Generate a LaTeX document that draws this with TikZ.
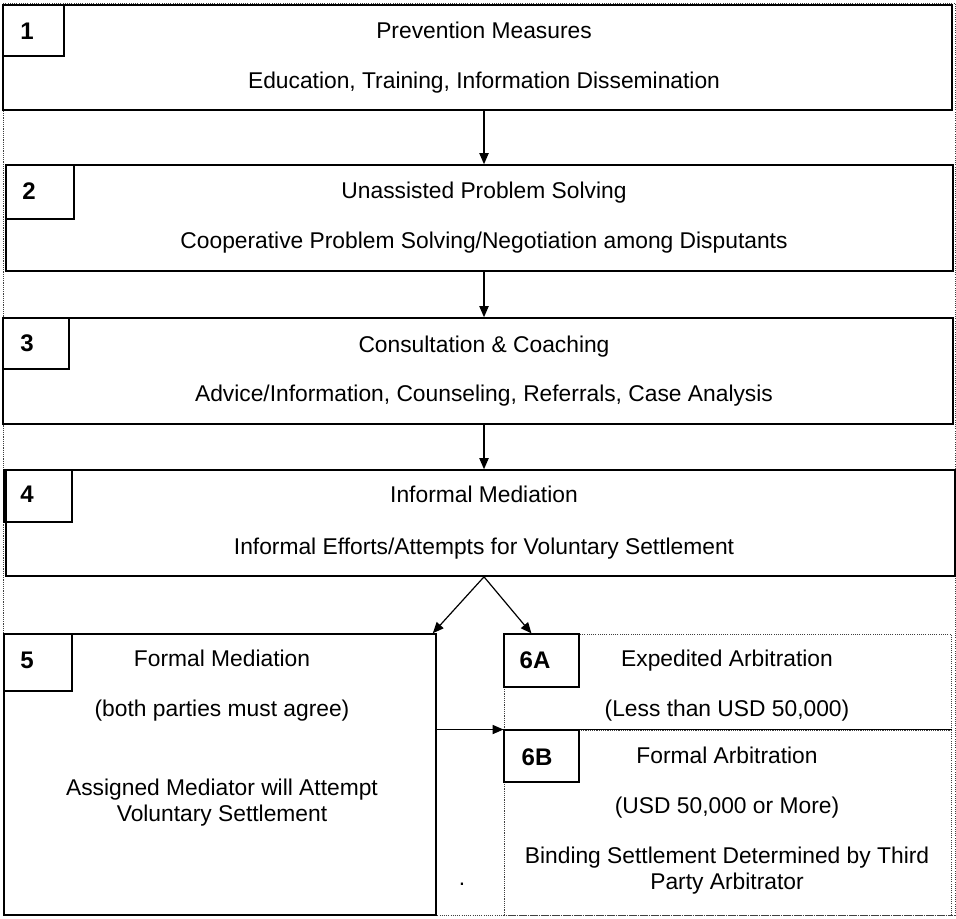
\documentclass[tikz,border=0pt]{standalone}
\usepackage{fontspec}
\setmainfont{Liberation Sans}
\usetikzlibrary{arrows.meta, fit}
\tikzset{
  stage/.style={draw, line width=0.8pt, inner sep=0pt},
  loose/.style={draw=black!75, line width=0.5pt, dash pattern=on 0.55pt off 0.55pt, inner sep=0pt},
  tag/.style={anchor=base, inner sep=0pt, font=\fontsize{12}{14}\selectfont\bfseries},
  caption/.style={anchor=base, inner sep=0pt, align=center, font=\fontsize{11.4}{13}\selectfont},
  flow/.style={-{Triangle[length=5.5pt, width=4.6pt]}, line width=0.6pt},
}

\begin{document}
\begin{tikzpicture}[x=0.5pt, y=-0.5pt]
\useasboundingbox (0,0) rectangle (956,918);
\draw[loose] (3,3) rectangle (955,915);
\coordinate (axis) at (484,0);

\node[stage, fit={(3,5) (952,110)}] (s1) {};
\node[stage, fit={(3,5) (64,56)}] (n1) {};
\node[tag] at (27,39) {1};
\node[caption] (t1) at (484,38) {Prevention Measures};
\node[caption] (d1) at (484,88) {Education, Training, Information Dissemination};

\node[stage, fit={(6,165) (953,271)}] (s2) {};
\node[stage, fit={(6,165) (74,219)}] (n2) {};
\node[tag] at (29,199) {2};
\node[caption] (t2) at (484,198) {Unassisted Problem Solving};
\node[caption] (d2) at (484,248) {Cooperative Problem Solving/Negotiation among Disputants};

\node[stage, fit={(3,318) (953,424)}] (s3) {};
\node[stage, fit={(3,318) (69,369)}] (n3) {};
\node[tag] at (27,351) {3};
\node[caption] (t3) at (484,352) {Consultation \& Coaching};
\node[caption] (d3) at (484,401) {Advice/Information, Counseling, Referrals, Case Analysis};

\node[stage, fit={(6,470) (955,576)}] (s4) {};
\node[stage, fit={(4,470) (72,522)}] (n4) {};
\node[tag] at (27,502) {4};
\node[caption] (t4) at (484,502) {Informal Mediation};
\node[caption] (d4) at (484,554) {Informal Efforts/Attempts for Voluntary Settlement};

\node[stage, fit={(4,634) (436,915)}] (s5) {};
\node[stage, fit={(4,634) (72,691)}] (n5) {};
\node[tag] at (27,668) {5};
\node[caption] (t5) at (222,666) {Formal Mediation};
\node[caption] (d5) at (222,716) {(both parties must agree)};
\node[caption] (e5) at (222,821) {Assigned Mediator will Attempt\\Voluntary Settlement};

\node[loose, fit={(504,634) (951,730)}] (s6a) {};
\node[stage, fit={(504,634) (579,687)}] (n6a) {};
\node[tag] at (535,668) {6A};
\node[caption] (t6a) at (727,666) {Expedited Arbitration};
\node[caption] (d6a) at (727,716) {(Less than USD 50,000)};

\node[loose, fit={(504,730) (951,915)}] (s6b) {};
\draw[line width=0.8pt] (s6b.north west) -- (s6b.north east);
\node[stage, fit={(504,730) (579,782)}] (n6b) {};
\node[tag] at (537,765) {6B};
\node[caption] (t6b) at (727,763) {Formal Arbitration};
\node[caption] (d6b) at (727,813) {(USD 50,000 or More)};
\node[caption] (e6b) at (727,889) {Binding Settlement Determined by Third\\Party Arbitrator};
\node[caption] (dot) at (462,885) {.};

\draw[flow] (s1.south -| axis) -- (s2.north -| axis);
\draw[flow] (s2.south -| axis) -- (s3.north -| axis);
\draw[flow] (s3.south -| axis) -- (s4.north -| axis);
\coordinate (fork) at (s4.south -| axis);
\draw[flow] (fork) -- ([xshift=-2pt]s5.north east);
\draw[flow] (fork) -- ([xshift=14pt]s6a.north west);
\draw[flow] (s5.east |- s6b.north) -- (s6b.north west);
\end{tikzpicture}
\end{document}
